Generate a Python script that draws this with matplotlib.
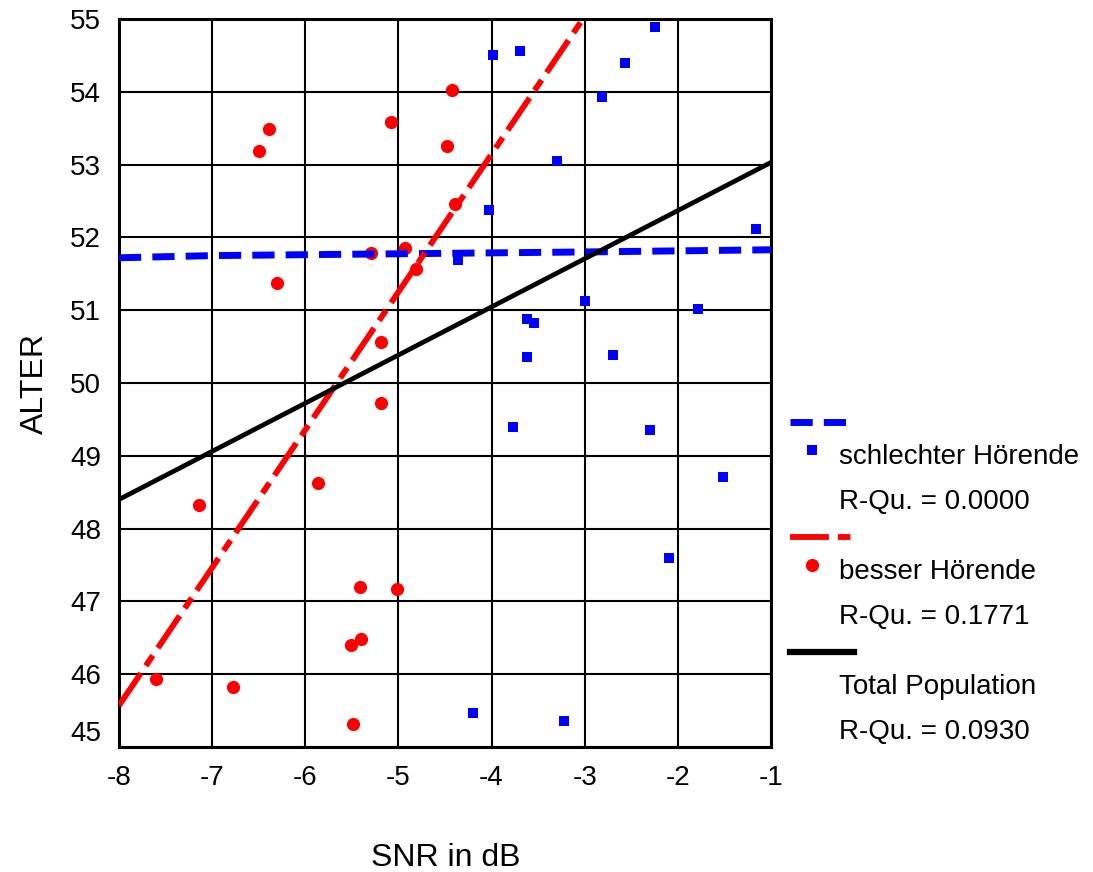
## SNR vs ALTER scatter with fit lines (SPSS-style)
import numpy as np
import matplotlib
matplotlib.use("Agg")
import matplotlib.pyplot as plt
from matplotlib.lines import Line2D

plt.rcParams['font.family'] = ['Liberation Sans', 'DejaVu Sans']
plt.rcParams['lines.scale_dashes'] = False
plt.rcParams['axes.unicode_minus'] = False

## Data
# schlechter Hoerende (blue squares)
bad_snr = [-3.99, -3.69, -2.25, -2.57, -2.81, -3.30, -4.03, -1.16, -4.36, -3.00,
           -1.78, -3.62, -3.54, -3.62, -2.70, -3.77, -2.30, -1.52, -2.10, -4.20, -3.22]
bad_age = [54.51, 54.56, 54.89, 54.40, 53.93, 53.05, 52.37, 52.12, 51.69, 51.13,
           51.02, 50.88, 50.82, 50.36, 50.39, 49.40, 49.35, 48.71, 47.59, 45.47, 45.36]

# besser Hoerende (red dots)
good_snr = [-6.39, -6.50, -5.08, -4.43, -4.48, -4.39, -5.29, -4.93, -4.81, -6.30, -5.19,
            -5.19, -5.86, -7.14, -5.41, -5.02, -5.40, -5.51, -7.60, -6.78, -5.49]
good_age = [53.49, 53.19, 53.58, 54.02, 53.25, 52.46, 51.79, 51.85, 51.57, 51.38, 50.56,
            49.73, 48.63, 48.32, 47.20, 47.17, 46.49, 46.40, 45.94, 45.83, 45.31]

# fit lines
bad_fit_x = [-8, -7, -3, -1]
bad_fit_y = [51.72, 51.75, 51.80, 51.83]
good_fit_x = [-8, -3.02]
good_fit_y = [45.57, 55.0]
total_fit_x = [-8, -1]
total_fit_y = [48.40, 53.03]

legend_names = ['schlechter Hörende', 'besser Hörende', 'Total Population']
r_squared = ['0.0000', '0.1771', '0.0930']

x_ticks = [-8, -7, -6, -5, -4, -3, -2, -1]
y_ticks = [45, 46, 47, 48, 49, 50, 51, 52, 53, 54, 55]

W, H = 1093, 872
fig = plt.figure(figsize=(W / 100, H / 100), dpi=100)
ax = fig.add_axes([119 / W, 1 - 747 / H, (771 - 119) / W, (747 - 19) / H])

ax.set_xlim(-8, -1)
ax.set_ylim(45, 55)
ax.set_xticks(x_ticks)
ax.set_yticks(y_ticks)
ax.grid(True, color='black', linewidth=1.5)
ax.set_axisbelow(True)
ax.tick_params(length=0, labelsize=20, pad=13)
for s in ax.spines.values():
    s.set_linewidth(2.2)

# points
ax.plot(good_snr, good_age, 'o', color='red', markersize=9.5, markeredgewidth=0, zorder=3)
ax.plot(bad_snr, bad_age, 's', color='blue', markersize=7, markeredgewidth=0, zorder=3)

# fit lines
blue_dash = (0, (16, 8))
red_dash = (0, (28, 6.5, 9, 6.5))
ax.plot(bad_fit_x, bad_fit_y, color='blue', linewidth=5.0, linestyle=blue_dash, zorder=4)
ax.plot(good_fit_x, good_fit_y, color='red', linewidth=4.2, linestyle=red_dash, zorder=5)
ax.plot(total_fit_x, total_fit_y, color='black', linewidth=3.4, zorder=6)

# SPSS puts the lowest y label a bit higher
for lab in ax.get_yticklabels():
    if lab.get_text() == '45':
        lab.set_verticalalignment('bottom')

fig.text(35 / W, 1 - 383 / H, 'ALTER', rotation=90, fontsize=23, ha='center', va='center')
fig.text(446 / W, 1 - 858 / H, 'SNR in dB', fontsize=23, ha='center', va='center')

## manual legend on the right
def fx(px):
    return px / W

def fy(py):
    return 1 - py / H

styles = [
    dict(color='blue', linewidth=5.0, linestyle=blue_dash, marker='s', ms=7),
    dict(color='red', linewidth=4.2, linestyle=red_dash, marker='o', ms=9.5),
    dict(color='black', linewidth=4.5, linestyle='-', marker=None, ms=0),
]
line_y = [422, 537, 652]
for i, st in enumerate(styles):
    y0 = line_y[i]
    fig.add_artist(Line2D([fx(790), fx(854)], [fy(y0), fy(y0)], color=st['color'],
                          linewidth=st['linewidth'], linestyle=st['linestyle'],
                          transform=fig.transFigure))
    if st['marker']:
        fig.add_artist(Line2D([fx(812)], [fy(y0 + 28)], color=st['color'], marker=st['marker'],
                              markersize=st['ms'], markeredgewidth=0, linestyle='none',
                              transform=fig.transFigure))
    fig.text(fx(839), fy(y0 + 35), legend_names[i], fontsize=20, ha='left', va='center')
    fig.text(fx(839), fy(y0 + 80), 'R-Qu. = ' + r_squared[i], fontsize=20, ha='left', va='center')

fig.savefig('out.png', dpi=100)
